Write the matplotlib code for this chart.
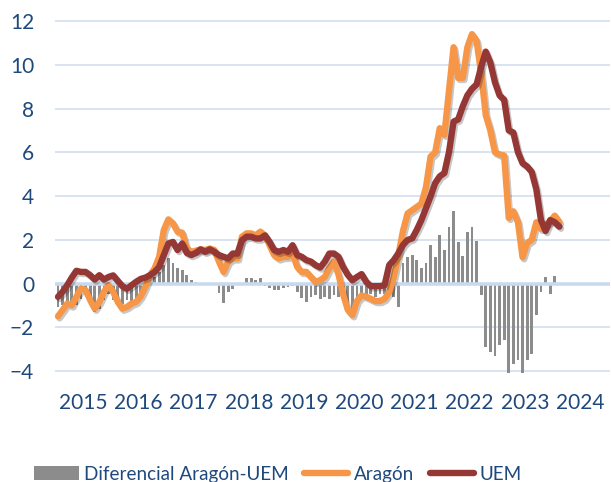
import numpy as np
import matplotlib
matplotlib.use('Agg')
from matplotlib import pyplot as plt
from matplotlib import patheffects as pe
from matplotlib.patches import Patch
from matplotlib.lines import Line2D

plt.rcParams['font.family'] = ['Lato', 'DejaVu Sans']

# etiquetas del eje x (una por año, datos mensuales desde ene-2015)
years = ['2015', '2016', '2017', '2018', '2019', '2020', '2021', '2022', '2023', '2024']

# IPC Aragón, tasa interanual (%)
aragon = [
    -1.50, -1.22, -0.92, -1.00, -0.61, -0.23, -0.30, -0.76, -1.15, -0.84, -0.38, -0.08,  # 2015
    -0.38, -0.84, -1.15, -1.07, -0.92, -0.84, -0.58, -0.15, 0.38, 0.69, 1.22, 2.44,      # 2016
    2.93, 2.75, 2.37, 2.32, 1.60, 1.45, 1.50, 1.56, 1.53, 1.60, 1.53, 1.00,              # 2017
    0.53, 1.00, 1.15, 1.15, 2.14, 2.29, 2.29, 2.20, 2.37, 2.20, 1.75, 1.30,              # 2018
    1.15, 1.22, 1.22, 1.37, 0.76, 0.53, 0.53, 0.30, 0.08, 0.15, 0.30, 0.70,              # 2019
    1.00, 0.40, -0.50, -1.20, -1.45, -0.80, -0.55, -0.60, -0.70, -0.80, -0.80, -0.70,    # 2020
    -0.40, 0.30, 1.30, 2.40, 3.20, 3.35, 3.50, 3.65, 4.40, 5.80, 6.00, 7.10,             # 2021
    6.80, 8.80, 10.80, 9.40, 9.40, 10.80, 11.40, 11.10, 9.60, 7.70, 7.00, 6.00,          # 2022
    5.90, 5.85, 3.00, 3.30, 2.80, 1.20, 1.85, 2.00, 2.80, 2.50, 2.65, 2.85,              # 2023
    3.10, 2.80,                                                                           # 2024
]

# IPCA zona euro (%)
uem = [
    -0.61, -0.38, -0.08, 0.27, 0.58, 0.53, 0.53, 0.38, 0.18, 0.38, 0.18, 0.30,
    0.37, 0.12, -0.12, -0.24, -0.08, 0.08, 0.21, 0.27, 0.38, 0.53, 0.76, 1.30,
    1.83, 1.90, 1.53, 1.83, 1.40, 1.30, 1.40, 1.56, 1.45, 1.56, 1.45, 1.30,
    1.22, 1.15, 1.37, 1.37, 1.98, 2.14, 2.14, 2.06, 2.06, 2.20, 1.90, 1.53,
    1.45, 1.53, 1.45, 1.75, 1.30, 1.22, 1.07, 1.00, 0.84, 0.73, 1.00, 1.37,
    1.37, 1.22, 0.75, 0.40, 0.15, 0.30, 0.43, 0.08, -0.12, -0.12, -0.12, -0.08,
    0.84, 1.07, 1.38, 1.76, 1.99, 2.06, 2.45, 2.90, 3.44, 3.98, 4.59, 4.90,
    5.05, 6.00, 7.40, 7.50, 8.10, 8.60, 8.90, 9.10, 9.90, 10.60, 10.10, 9.20,
    8.60, 8.40, 7.00, 6.90, 6.00, 5.50, 5.35, 5.10, 4.30, 2.90, 2.40, 2.90,
    2.80, 2.60,
]

# diferencial Aragón-UEM (puntos)
diferencial = [
    -1.07, -1.00, -1.07, -0.92, -1.00, -0.69, -0.53, -0.76, -1.30, -1.15, -0.76, -0.50,
    -0.76, -1.00, -0.92, -0.76, -0.84, -0.76, -0.60, -0.30, 0.23, 0.30, 0.53, 0.84,
    1.15, 0.92, 0.69, 0.61, 0.38, 0.15, 0.05, 0.00, 0.00, 0.00, -0.05, -0.43,
    -0.89, -0.38, -0.27, 0.00, 0.00, 0.27, 0.23, 0.18, 0.23, -0.10, -0.20, -0.30,
    -0.30, -0.20, -0.15, -0.10, -0.40, -0.65, -0.84, -0.61, -0.53, -0.69, -0.61, -0.69,
    -0.53, -0.61, -0.53, -0.92, -1.45, -1.00, -0.69, -0.76, -0.50, -0.60, -0.50, -0.46,
    -0.53, -0.60, -1.07, 0.95, 1.22, 1.30, 1.07, 0.72, 0.96, 1.76, 1.22, 2.20,
    1.53, 2.60, 3.32, 1.90, 1.25, 2.37, 2.57, 1.94, -0.53, -2.90, -3.13, -3.33,
    -2.83, -2.60, -4.10, -3.67, -3.50, -4.10, -3.50, -3.20, -1.45, -0.38, 0.30, -0.46,
    0.34, 0.00,
]

txt = '#1F497D'
c_ara = '#F79646'
c_uem = '#953735'

meses = np.arange(len(aragon))

fig = plt.figure(figsize=(6.11, 4.82), dpi=100)
ax = fig.add_axes([0.0900, 0.2212, 0.9083, 0.7624])

ax.bar(np.arange(len(diferencial)), diferencial, width=0.62, color='#8C8C8C', zorder=2)
ax.axhline(0, color='#C9DAF0', lw=2.6, zorder=2.5)

sombra = [pe.SimpleLineShadow(offset=(1.2, -1.5), alpha=0.22), pe.Normal()]
ax.plot(meses, aragon, color=c_ara, lw=4.6, solid_joinstyle='round',
        solid_capstyle='round', zorder=3, path_effects=sombra)
ax.plot(meses, uem, color=c_uem, lw=4.6, solid_joinstyle='round',
        solid_capstyle='round', zorder=4, path_effects=sombra)

ax.set_xlim(-0.65, 120.0)
ax.set_ylim(-4.2, 12.6)
ax.set_yticks(range(-4, 13, 2))
ax.set_xticks([12 * i + 5.5 for i in range(len(years))])
ax.set_xticklabels(years)
ax.yaxis.grid(True, color='#D5E1F1', lw=1.3)
ax.set_axisbelow(True)
for s in ax.spines.values():
    s.set_visible(False)
ax.tick_params(length=0, labelsize=15, labelcolor=txt)
ax.tick_params(axis='y', pad=15)
ax.tick_params(axis='x', pad=12.5)

handles = [Patch(facecolor='#8C8C8C'),
           Line2D([], [], color=c_ara, lw=4.6, solid_capstyle='round'),
           Line2D([], [], color=c_uem, lw=4.6, solid_capstyle='round')]
labels = ['Diferencial Aragón-UEM', 'Aragón', 'UEM']
fig.legend(handles, labels, loc='center', bbox_to_anchor=(0.455, 0.016), ncol=3,
           frameon=False, fontsize=13.6, handlelength=2.35, handleheight=0.75,
           handletextpad=0.3, columnspacing=0.8, labelcolor=txt, borderaxespad=0)

fig.savefig('out.png', dpi=100)
